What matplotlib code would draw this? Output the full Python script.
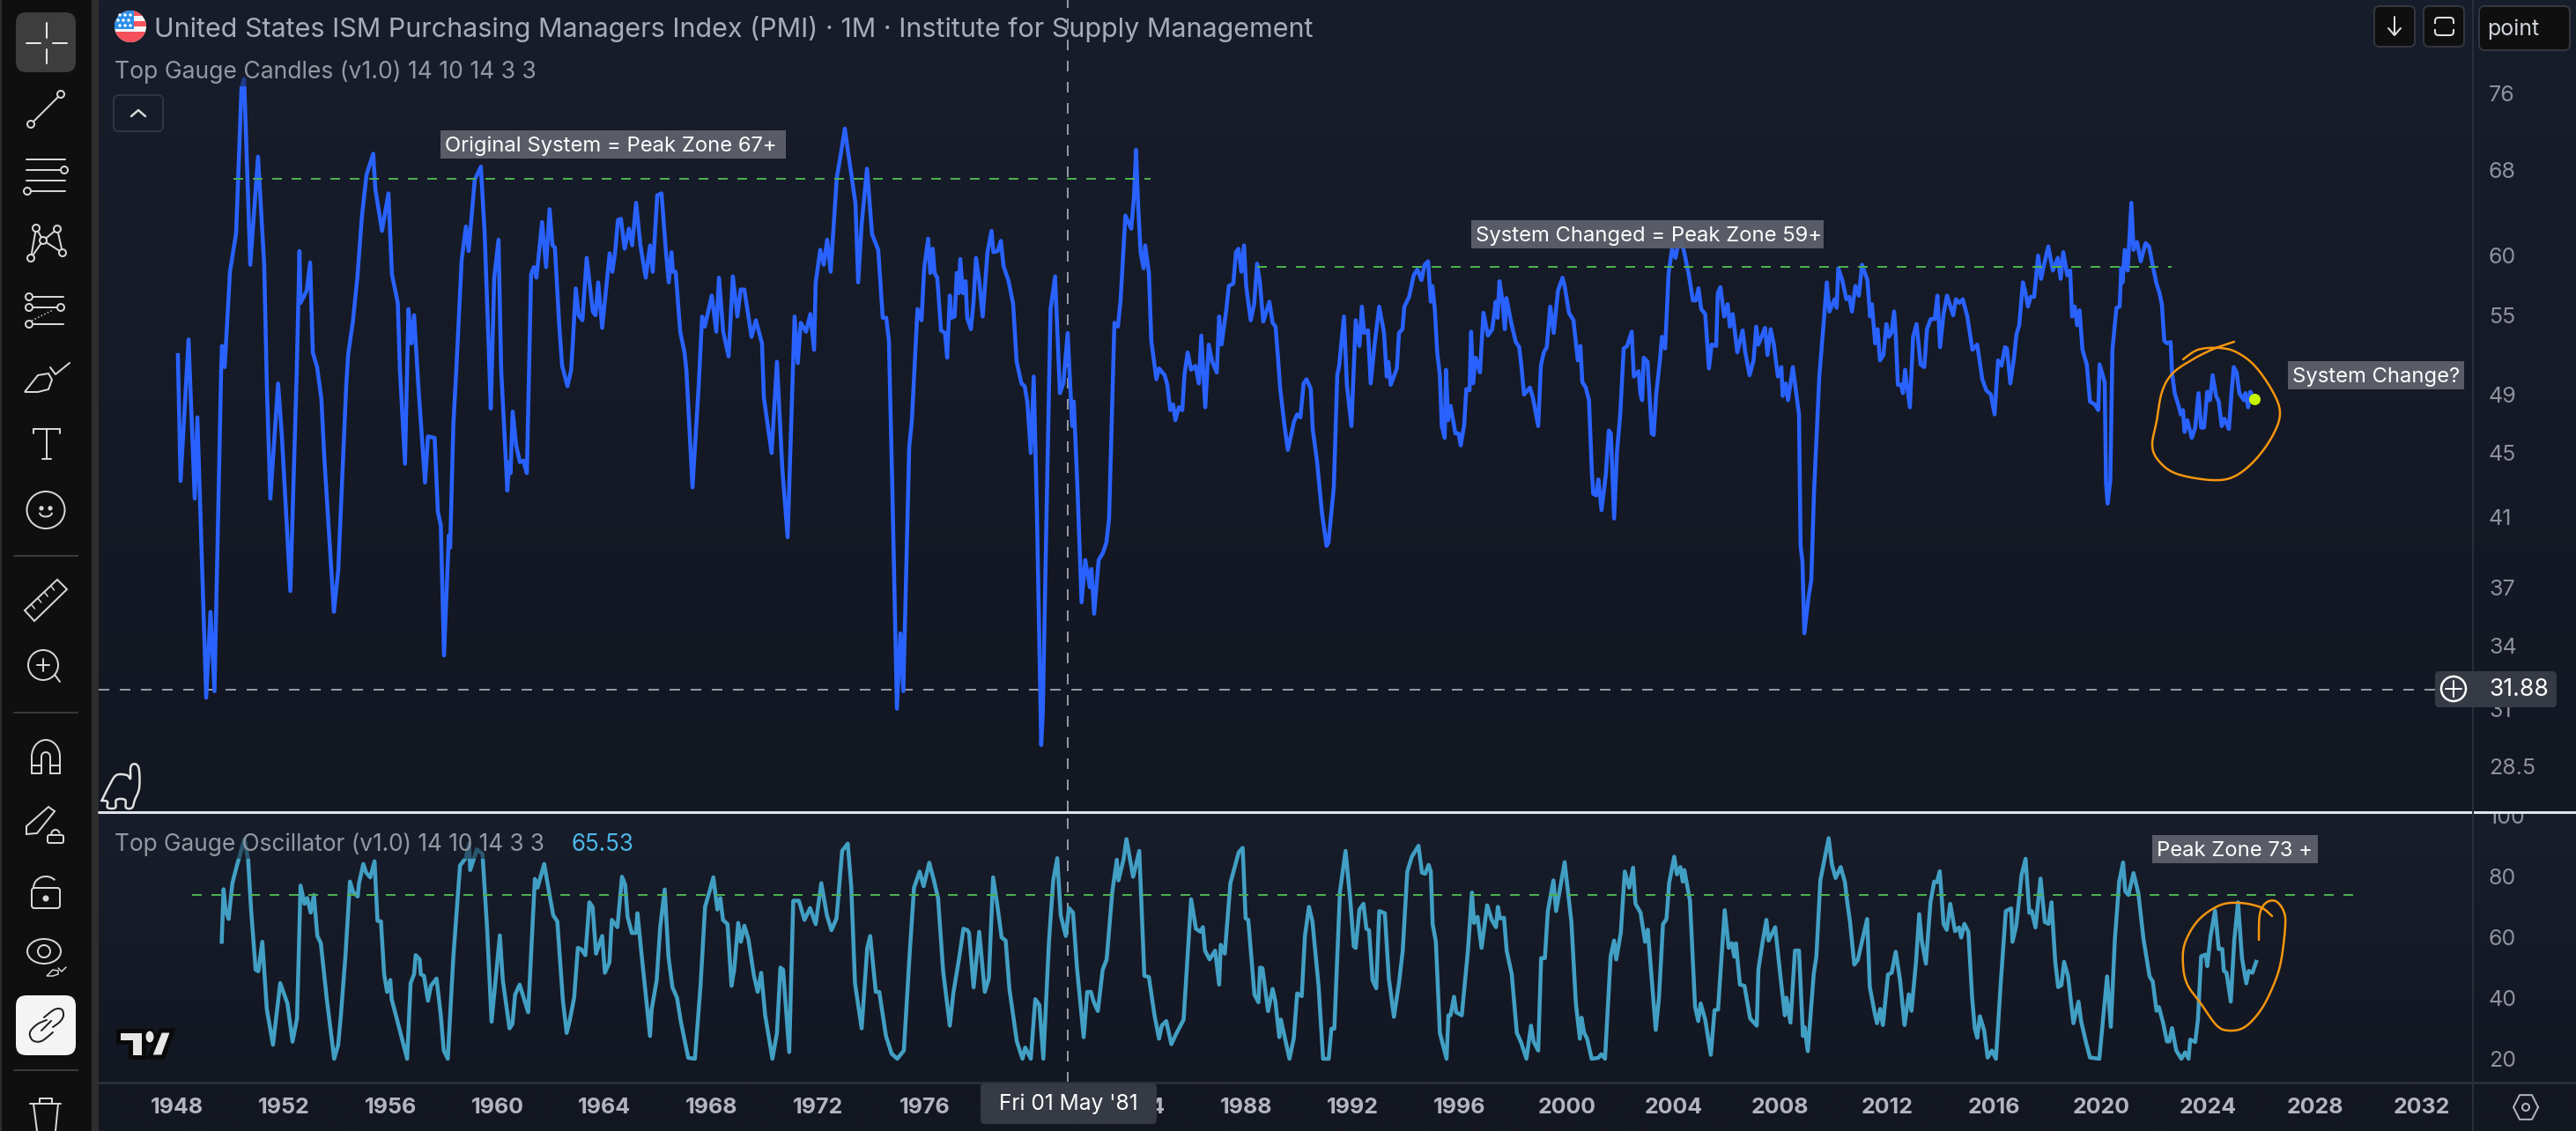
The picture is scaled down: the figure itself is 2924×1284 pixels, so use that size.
import numpy as np
import matplotlib
matplotlib.use("Agg")
import matplotlib.pyplot as plt
from matplotlib.patches import Rectangle, FancyBboxPatch, Circle, Ellipse, Polygon, Arc
from matplotlib.transforms import Bbox

plt.rcParams['font.family'] = ['Inter', 'DejaVu Sans']

# ---------- data: (decimal year, PMI) ----------
pmi_1948_1959 = [(1948.03,51.9),(1948.13,43.2),(1948.43,53.1),(1948.66,42.1),(1948.76,47.4),(1949.09,31.5),(1949.25,35.7),(1949.40,31.8),(1949.65,50.8),(1949.68,52.6),(1949.78,51.0),(1949.98,58.6),(1950.21,62.0),(1950.41,76.6),(1950.51,77.6),(1950.74,59.2),(1951.03,69.3),(1951.26,59.2),(1951.36,49.6),(1951.49,42.1),(1951.78,49.8),(1951.92,46.2),(1952.24,36.8),(1952.48,50.8),(1952.58,60.4),(1952.62,56.0),(1952.85,57.0),(1952.98,59.4),(1953.08,52.1),(1953.24,51.0),(1953.40,48.7),(1953.51,44.7),(1953.87,35.7),(1954.03,37.9),(1954.33,49.6),(1954.40,51.9),(1954.58,54.5),(1954.75,58.2),(1954.92,63.6),(1955.09,67.5),(1955.34,69.6),(1955.42,66.1),(1955.67,62.2),(1955.91,65.7),(1956.04,58.4),(1956.26,56.0),(1956.34,50.8),(1956.53,44.3),(1956.66,55.5),(1956.77,52.8),(1956.87,55.0),(1957.03,49.6),(1957.28,43.1),(1957.39,46.1),(1957.64,46.0),(1957.76,41.3),(1957.87,40.5),(1957.99,33.5),(1958.17,39.9),(1958.22,39.2),(1958.34,46.9),(1958.45,50.8),(1958.65,59.6),(1958.81,62.6),(1958.91,60.4),(1959.14,67.0),(1959.37,68.3),(1959.51,62.0),(1959.67,52.1),(1959.74,48.0),(1959.87,58.1)]
pmi_1960_1969 = [(1960.03,61.4),(1960.13,50.8),(1960.36,42.6),(1960.43,44.4),(1960.48,43.7),(1960.56,47.8),(1960.69,45.5),(1960.83,44.4),(1960.96,44.5),(1961.09,43.7),(1961.25,58.4),(1961.35,59.0),(1961.45,58.1),(1961.66,63.0),(1961.81,59.0),(1961.94,64.2),(1962.05,60.9),(1962.14,60.7),(1962.30,54.3),(1962.41,51.1),(1962.61,49.6),(1962.75,50.8),(1962.82,53.2),(1962.92,57.2),(1963.03,55.0),(1963.17,54.6),(1963.33,59.8),(1963.56,55.3),(1963.66,55.0),(1963.76,57.7),(1963.91,54.0),(1964.09,57.9),(1964.19,60.2),(1964.29,58.6),(1964.39,60.2),(1964.50,63.2),(1964.61,63.3),(1964.75,60.6),(1964.91,62.4),(1965.03,60.9),(1965.18,64.8),(1965.34,60.9),(1965.54,58.1),(1965.70,60.9),(1965.80,58.6),(1965.97,65.5),(1966.13,65.7),(1966.30,60.2),(1966.40,57.7),(1966.50,60.3),(1966.56,58.6),(1966.66,58.6),(1966.83,53.7),(1966.99,52.1),(1967.06,50.8),(1967.29,42.8),(1967.52,49.6),(1967.65,54.9),(1967.75,54.1),(1968.01,56.6),(1968.18,53.7),(1968.28,58.1),(1968.44,53.7),(1968.64,51.8),(1968.80,58.2),(1968.97,54.9),(1969.09,57.1),(1969.23,57.1),(1969.50,53.3),(1969.66,54.6),(1969.89,52.8),(1969.96,48.8)]
pmi_1970_1979 = [(1970.25,45.0),(1970.45,51.4),(1970.65,44.0),(1970.85,39.8),(1971.05,50.8),(1971.11,54.9),(1971.23,51.3),(1971.34,54.4),(1971.54,53.7),(1971.70,55.1),(1971.84,52.3),(1971.90,57.7),(1972.07,60.5),(1972.20,59.2),(1972.33,61.4),(1972.46,58.6),(1972.69,67.2),(1972.86,69.9),(1972.99,72.2),(1973.12,69.6),(1973.22,67.8),(1973.39,64.7),(1973.49,57.7),(1973.62,62.8),(1973.82,68.1),(1974.01,61.9),(1974.24,60.5),(1974.41,54.8),(1974.54,54.8),(1974.64,53.0),(1974.77,42.6),(1974.94,31.0),(1975.07,34.6),(1975.18,31.8),(1975.40,45.4),(1975.50,47.2),(1975.71,55.5),(1975.86,54.6),(1975.96,58.9),(1976.11,61.5),(1976.19,58.5),(1976.28,60.6),(1976.35,58.5),(1976.45,58.1),(1976.59,53.8),(1976.74,53.6),(1976.82,51.7),(1976.92,56.6),(1976.98,54.8),(1977.10,54.9),(1977.18,58.5),(1977.25,56.8),(1977.31,59.7),(1977.41,56.8),(1977.51,57.8),(1977.57,54.8),(1977.71,53.9),(1977.81,56.2),(1977.90,59.8),(1978.02,57.8),(1978.15,54.9),(1978.33,60.3),(1978.48,62.2),(1978.55,60.3),(1978.71,60.4),(1978.83,61.3),(1978.93,59.1),(1979.12,57.8),(1979.29,55.9),(1979.42,51.4),(1979.60,49.8),(1979.72,49.6),(1979.82,48.5),(1979.95,45.0)]
pmi_1980_1989 = [(1980.06,50.3),(1980.18,41.2),(1980.34,29.4),(1980.40,30.8),(1980.54,41.2),(1980.69,55.5),(1980.86,58.2),(1981.04,49.1),(1981.17,49.8),(1981.33,53.6),(1981.50,46.8),(1981.56,48.5),(1981.70,42.6),(1981.85,36.2),(1981.99,38.5),(1982.16,37.0),(1982.22,38.0),(1982.32,35.6),(1982.49,38.5),(1982.65,38.9),(1982.78,39.5),(1982.88,40.9),(1983.08,54.4),(1983.21,54.1),(1983.31,56.2),(1983.49,63.6),(1983.71,62.4),(1983.81,65.3),(1983.89,70.0),(1983.97,64.4),(1984.06,60.3),(1984.17,58.9),(1984.23,60.9),(1984.37,58.5),(1984.46,53.0),(1984.65,50.1),(1984.75,50.9),(1984.96,50.4),(1985.06,49.7),(1985.17,47.9),(1985.28,48.3),(1985.36,47.2),(1985.49,48.1),(1985.62,47.9),(1985.70,50.4),(1985.82,52.1),(1985.95,50.8),(1986.11,51.1),(1986.24,49.8),(1986.33,53.4),(1986.48,48.1),(1986.61,52.7),(1986.74,51.4),(1986.91,50.6),(1987.00,54.9),(1987.09,52.7),(1987.27,55.5),(1987.36,57.4),(1987.53,57.6),(1987.63,60.3),(1987.72,60.6),(1987.83,58.6),(1987.93,60.9),(1988.01,57.4),(1988.18,54.6),(1988.31,55.9),(1988.42,59.3),(1988.52,57.8),(1988.65,54.5),(1988.88,56.1),(1989.00,54.4),(1989.11,54.1),(1989.21,51.5),(1989.28,49.5),(1989.44,46.9),(1989.57,45.2),(1989.80,47.1),(1989.92,47.6)]
pmi_1990_1999 = [(1990.04,47.4),(1990.16,49.8),(1990.27,50.1),(1990.43,49.4),(1990.50,46.6),(1990.66,44.5),(1990.85,41.2),(1991.02,39.3),(1991.09,39.5),(1991.29,42.8),(1991.42,50.4),(1991.49,51.1),(1991.67,54.9),(1991.78,49.7),(1991.95,46.8),(1992.11,54.6),(1992.25,52.6),(1992.34,55.7),(1992.43,53.6),(1992.57,53.8),(1992.67,49.8),(1992.81,52.6),(1992.99,55.7),(1993.17,53.6),(1993.27,50.3),(1993.33,51.4),(1993.42,49.7),(1993.65,50.9),(1993.73,53.6),(1993.86,53.9),(1993.93,55.7),(1994.11,56.5),(1994.28,58.3),(1994.42,58.8),(1994.57,57.9),(1994.69,59.2),(1994.82,59.5),(1994.92,56.1),(1994.98,57.4),(1995.07,55.5),(1995.16,52.1),(1995.26,50.4),(1995.33,46.8),(1995.44,46.0),(1995.49,50.8),(1995.57,47.2),(1995.66,48.2),(1995.84,46.3),(1995.96,46.3),(1996.04,45.5),(1996.17,46.9),(1996.25,49.4),(1996.37,49.3),(1996.43,53.7),(1996.50,49.8),(1996.60,51.7),(1996.76,50.6),(1996.89,55.2),(1997.06,53.4),(1997.22,53.9),(1997.35,56.1),(1997.42,54.8),(1997.49,57.8),(1997.60,56.2),(1997.69,53.9),(1997.75,56.4),(1997.93,54.4),(1998.10,52.9),(1998.23,52.5),(1998.31,51.1),(1998.41,49.0),(1998.63,49.5),(1998.74,48.8),(1998.94,46.8),(1999.04,51.1),(1999.15,52.1),(1999.26,52.5),(1999.39,55.7),(1999.52,53.6),(1999.68,57.0),(1999.85,58.1),(1999.93,57.4)]
pmi_2000_2009 = [(2000.09,55.2),(2000.26,54.6),(2000.42,51.5),(2000.52,52.6),(2000.59,49.9),(2000.72,49.5),(2000.84,48.6),(2000.95,43.7),(2001.00,42.4),(2001.11,42.3),(2001.19,43.3),(2001.31,41.4),(2001.47,43.6),(2001.58,46.5),(2001.66,46.3),(2001.78,40.9),(2001.89,45.1),(2002.01,47.6),(2002.14,52.4),(2002.27,52.6),(2002.44,53.7),(2002.52,50.3),(2002.70,50.7),(2002.76,49.1),(2002.83,48.6),(2002.89,51.7),(2003.03,51.4),(2003.19,46.3),(2003.26,46.2),(2003.36,49.1),(2003.49,51.4),(2003.57,53.3),(2003.69,52.4),(2003.82,58.5),(2003.95,60.6),(2004.08,59.8),(2004.15,60.7),(2004.31,61.3),(2004.44,59.9),(2004.58,58.3),(2004.73,56.2),(2004.84,56.2),(2004.94,57.2),(2005.04,55.5),(2005.19,55.1),(2005.33,50.9),(2005.43,52.7),(2005.60,52.6),(2005.66,56.8),(2005.76,57.3),(2005.90,54.9),(2006.03,55.9),(2006.11,54.1),(2006.22,55.1),(2006.39,52.1),(2006.59,53.8),(2006.69,52.1),(2006.85,50.4),(2007.00,51.5),(2007.10,54.1),(2007.18,52.7),(2007.43,54.0),(2007.52,51.9),(2007.64,53.9),(2007.76,52.7),(2007.91,50.3),(2008.04,51.0),(2008.09,48.9),(2008.20,49.8),(2008.29,48.6),(2008.47,51.0),(2008.70,47.6),(2008.76,39.3),(2008.83,38.4),(2008.90,34.6),(2009.06,36.5),(2009.16,37.4),(2009.26,42.4),(2009.46,50.3),(2009.65,55.1),(2009.74,57.7),(2009.84,55.3)]
pmi_2010_2019 = [(2010.03,56.3),(2010.11,55.6),(2010.17,58.9),(2010.32,57.9),(2010.47,56.3),(2010.58,56.5),(2010.68,55.3),(2010.81,57.4),(2010.94,56.6),(2011.06,59.2),(2011.26,57.9),(2011.36,54.9),(2011.43,55.9),(2011.55,52.8),(2011.64,53.9),(2011.73,51.5),(2011.86,51.9),(2011.97,54.3),(2012.06,53.3),(2012.16,53.6),(2012.26,55.3),(2012.32,53.5),(2012.40,49.7),(2012.52,49.7),(2012.59,49.1),(2012.67,50.8),(2012.85,48.1),(2012.97,53.3),(2013.10,54.3),(2013.25,51.2),(2013.39,51.0),(2013.49,53.9),(2013.63,54.7),(2013.78,54.7),(2013.88,56.6),(2013.98,52.5),(2014.11,55.1),(2014.24,56.6),(2014.47,55.0),(2014.57,56.3),(2014.70,56.0),(2014.83,56.3),(2015.00,54.9),(2015.19,52.3),(2015.37,52.7),(2015.56,50.1),(2015.71,49.3),(2015.88,49.0),(2016.02,47.6),(2016.15,51.5),(2016.28,51.1),(2016.41,52.5),(2016.48,52.4),(2016.61,49.8),(2016.74,51.6),(2016.84,53.5),(2016.94,54.2),(2017.08,57.7),(2017.17,56.9),(2017.27,55.7),(2017.37,56.5),(2017.50,56.5),(2017.65,60.0),(2017.76,58.0),(2017.87,59.2),(2018.03,60.8),(2018.20,58.7),(2018.39,59.8),(2018.49,58.0),(2018.59,60.3),(2018.74,58.3),(2018.85,58.7),(2018.92,54.9),(2019.02,55.7),(2019.11,54.2),(2019.20,55.4),(2019.31,52.3),(2019.47,51.2),(2019.59,48.5),(2019.77,48.3),(2019.90,47.9),(2019.95,51.2)]
pmi_2020_2025 = [(2020.14,49.9),(2020.19,43.1),(2020.25,41.8),(2020.35,43.2),(2020.43,52.3),(2020.58,55.6),(2020.70,55.7),(2020.76,58.9),(2020.81,57.7),(2020.89,60.5),(2021.00,58.7),(2021.14,64.8),(2021.22,60.5),(2021.35,61.2),(2021.49,59.5),(2021.67,61.1),(2021.80,60.8),(2021.95,59.0),(2022.08,57.6),(2022.18,56.9),(2022.28,55.9),(2022.37,53.0),(2022.47,52.8),(2022.61,52.9),(2022.66,50.6),(2022.76,49.1),(2022.89,48.3),(2022.99,47.6),(2023.07,47.9),(2023.13,46.4),(2023.23,47.2),(2023.40,46.0),(2023.53,46.7),(2023.65,49.1),(2023.75,46.7),(2023.86,46.7),(2023.98,49.2),(2024.08,48.6),(2024.18,50.4),(2024.31,48.9),(2024.41,48.5),(2024.52,46.8),(2024.62,47.3),(2024.79,46.6),(2024.89,49.2),(2024.97,51.0),(2025.08,50.6),(2025.18,49.1),(2025.35,48.6),(2025.41,49.1),(2025.51,48.1),(2025.59,49.2),(2025.73,48.7)]

osc_1949_1959 = [(1949.67,58.5),(1949.74,75.8),(1949.82,68.6),(1949.93,66.0),(1950.07,77.8),(1950.24,83.6),(1950.52,92.3),(1950.66,85.5),(1950.77,69.1),(1950.94,49.3),(1951.04,48.8),(1951.19,58.5),(1951.36,36.2),(1951.59,24.6),(1951.86,44.9),(1952.13,38.2),(1952.32,25.6),(1952.49,33.3),(1952.62,77.0),(1952.77,71.0),(1952.87,72.9),(1953.00,68.1),(1953.12,73.9),(1953.25,60.4),(1953.38,58.0),(1953.61,39.1),(1953.88,20.0),(1954.03,24.6),(1954.13,34.3),(1954.30,53.6),(1954.47,78.3),(1954.59,74.9),(1954.76,73.4),(1954.81,77.8),(1954.97,84.1),(1955.08,81.2),(1955.23,79.7),(1955.39,85.0),(1955.50,65.4),(1955.63,65.2),(1955.75,47.8),(1955.86,42.0),(1955.98,45.9),(1956.03,39.6),(1956.19,34.3),(1956.61,20.0),(1956.74,44.9),(1956.87,47.8),(1956.93,54.1),(1957.08,52.7),(1957.12,47.8),(1957.24,47.3),(1957.39,39.1),(1957.50,44.0),(1957.71,46.4),(1957.87,34.3),(1957.98,22.7),(1958.13,20.0),(1958.34,53.6),(1958.59,83.6),(1958.80,86.0),(1958.93,90.8),(1958.97,82.1),(1959.22,88.9),(1959.43,87.4),(1959.60,63.3),(1959.77,32.2)]
osc_1960_1969 = [(1960.08,60.6),(1960.19,45.9),(1960.44,30.0),(1960.55,31.4),(1960.65,41.1),(1960.82,44.4),(1961.14,35.3),(1961.39,79.2),(1961.49,76.3),(1961.74,84.1),(1961.95,73.4),(1962.08,67.2),(1962.23,65.2),(1962.44,39.1),(1962.58,28.5),(1962.69,32.4),(1962.86,40.1),(1963.00,56.5),(1963.13,56.0),(1963.28,54.1),(1963.43,71.5),(1963.55,70.0),(1963.68,54.6),(1963.91,60.4),(1964.01,48.3),(1964.18,51.7),(1964.27,65.7),(1964.48,63.3),(1964.65,79.9),(1964.77,77.3),(1964.86,66.7),(1965.02,61.4),(1965.17,61.4),(1965.23,67.9),(1965.38,54.6),(1965.70,27.5),(1965.76,36.2),(1965.95,45.9),(1966.08,63.3),(1966.25,75.7),(1966.39,53.6),(1966.54,43.5),(1966.71,40.1),(1966.85,32.4),(1967.13,20.3),(1967.38,20.0),(1967.59,44.0),(1967.76,70.0),(1967.95,75.8),(1968.07,79.7),(1968.22,69.1),(1968.33,72.9),(1968.43,65.7),(1968.60,64.3),(1968.75,44.0),(1968.85,49.3),(1969.00,64.7),(1969.10,58.5),(1969.23,63.8),(1969.38,59.4),(1969.59,47.3),(1969.73,42.0),(1969.86,48.3)]
osc_1970_1979 = [(1970.01,34.3),(1970.28,20.0),(1970.45,28.5),(1970.58,50.0),(1970.68,49.3),(1970.91,22.2),(1971.06,72.0),(1971.27,72.0),(1971.48,65.7),(1971.69,69.6),(1971.90,64.3),(1972.11,77.8),(1972.32,67.2),(1972.49,62.3),(1972.68,66.2),(1972.89,88.4),(1973.10,90.8),(1973.23,76.8),(1973.37,44.9),(1973.62,30.0),(1973.83,56.5),(1973.94,60.4),(1974.15,42.0),(1974.28,42.0),(1974.43,33.3),(1974.53,27.5),(1974.74,21.7),(1974.95,20.0),(1975.20,22.7),(1975.41,53.6),(1975.58,76.3),(1975.79,81.6),(1975.94,76.8),(1976.15,84.5),(1976.31,79.2),(1976.48,72.9),(1976.67,48.8),(1976.92,30.9),(1977.05,41.5),(1977.26,52.7),(1977.43,62.8),(1977.58,62.3),(1977.64,61.4),(1977.81,43.5),(1978.02,61.8),(1978.23,42.0),(1978.38,46.4),(1978.54,79.7),(1978.69,71.0),(1978.86,59.9),(1979.01,58.9),(1979.15,43.0),(1979.43,25.6),(1979.64,20.0),(1979.74,23.7),(1979.95,20.0)]
osc_1980_1989 = [(1980.12,39.6),(1980.27,37.7),(1980.42,20.0),(1980.63,58.5),(1980.79,78.7),(1980.94,86.0),(1981.07,67.2),(1981.26,60.4),(1981.38,69.6),(1981.53,68.1),(1981.68,49.8),(1981.93,27.1),(1982.06,42.0),(1982.20,42.0),(1982.31,38.6),(1982.46,35.7),(1982.64,49.3),(1982.79,52.7),(1983.00,74.9),(1983.17,85.5),(1983.23,78.7),(1983.42,85.5),(1983.53,92.3),(1983.78,79.9),(1984.01,88.4),(1984.20,47.3),(1984.37,46.9),(1984.58,34.3),(1984.75,26.6),(1984.85,30.9),(1985.02,32.4),(1985.21,24.8),(1985.38,28.0),(1985.67,32.9),(1985.95,72.5),(1986.05,67.2),(1986.13,62.8),(1986.30,61.8),(1986.39,63.3),(1986.47,55.6),(1986.64,52.7),(1986.85,55.6),(1987.00,44.4),(1987.06,57.5),(1987.21,54.6),(1987.42,77.8),(1987.73,87.9),(1987.88,89.4),(1987.99,66.2),(1988.09,65.7),(1988.32,41.1),(1988.47,38.6),(1988.53,50.0),(1988.62,49.8),(1988.83,35.7),(1989.00,43.0),(1989.10,39.1),(1989.25,27.1),(1989.31,32.9),(1989.63,20.0),(1989.79,26.6),(1989.92,41.5)]
osc_1990_1999 = [(1990.09,40.6),(1990.21,60.4),(1990.36,70.0),(1990.49,65.2),(1990.72,44.0),(1990.89,20.0),(1991.10,20.0),(1991.20,29.9),(1991.31,29.9),(1991.52,74.9),(1991.73,88.4),(1991.90,72.9),(1992.04,57.0),(1992.11,56.5),(1992.25,69.1),(1992.40,71.0),(1992.51,62.8),(1992.61,62.3),(1992.74,45.9),(1992.88,43.2),(1992.99,68.6),(1993.20,67.9),(1993.35,46.4),(1993.54,33.8),(1993.73,44.9),(1993.87,55.6),(1994.04,81.6),(1994.21,86.5),(1994.46,90.1),(1994.59,81.2),(1994.71,80.9),(1994.84,83.8),(1994.92,81.6),(1994.99,64.3),(1995.11,58.5),(1995.26,28.5),(1995.51,20.0),(1995.58,34.3),(1995.66,34.3),(1995.79,40.4),(1995.87,35.3),(1996.08,34.3),(1996.31,55.6),(1996.46,74.7),(1996.54,64.7),(1996.67,66.7),(1996.82,56.5),(1997.03,70.5),(1997.20,65.7),(1997.36,63.3),(1997.43,70.0),(1997.51,66.2),(1997.66,66.4),(1997.76,55.6),(1997.95,47.8),(1998.14,28.5),(1998.29,25.6),(1998.50,20.0),(1998.67,30.9),(1998.77,25.6),(1998.94,22.7),(1999.05,53.1),(1999.19,53.1),(1999.30,68.6),(1999.40,73.4),(1999.51,78.7),(1999.61,68.6),(1999.93,84.7)]
osc_2000_2009 = [(2000.18,65.2),(2000.35,38.2),(2000.50,26.6),(2000.56,33.5),(2000.66,28.5),(2000.77,26.6),(2000.94,20.0),(2001.19,20.3),(2001.30,21.5),(2001.44,20.0),(2001.65,53.6),(2001.78,58.9),(2001.86,52.7),(2002.03,61.4),(2002.18,81.6),(2002.35,76.3),(2002.49,82.9),(2002.58,71.0),(2002.77,68.1),(2002.94,58.5),(2003.04,62.5),(2003.34,29.5),(2003.46,40.1),(2003.61,64.3),(2003.74,66.0),(2003.84,77.8),(2004.03,86.5),(2004.13,80.7),(2004.26,83.1),(2004.35,78.3),(2004.41,82.1),(2004.62,72.0),(2004.81,37.2),(2004.93,32.4),(2005.02,38.2),(2005.19,32.9),(2005.40,21.3),(2005.54,36.0),(2005.67,36.2),(2005.92,68.9),(2006.07,56.5),(2006.19,58.0),(2006.28,53.6),(2006.34,58.0),(2006.49,44.4),(2006.66,44.0),(2006.87,33.3),(2007.12,30.9),(2007.18,49.3),(2007.33,58.0),(2007.48,65.7),(2007.56,58.9),(2007.81,63.3),(2008.02,45.9),(2008.17,34.3),(2008.23,40.1),(2008.38,31.9),(2008.55,55.6),(2008.70,55.6),(2008.85,27.5),(2008.91,30.4),(2009.03,22.5),(2009.25,47.8),(2009.35,53.6),(2009.50,78.7),(2009.81,92.6),(2009.93,84.0)]
osc_2010_2019 = [(2010.07,79.5),(2010.26,83.1),(2010.42,78.1),(2010.48,73.3),(2010.61,65.0),(2010.77,51.0),(2010.90,52.5),(2011.10,60.2),(2011.25,66.0),(2011.35,43.6),(2011.53,35.2),(2011.62,31.7),(2011.74,36.4),(2011.84,31.1),(2012.03,47.7),(2012.17,48.3),(2012.32,55.2),(2012.48,46.0),(2012.65,31.1),(2012.81,41.2),(2012.91,35.8),(2013.08,51.9),(2013.20,67.6),(2013.29,59.0),(2013.45,51.3),(2013.62,71.5),(2013.76,78.3),(2013.86,78.1),(2013.97,81.7),(2014.11,64.4),(2014.23,62.4),(2014.36,71.0),(2014.54,62.0),(2014.69,63.2),(2014.77,59.9),(2014.89,64.4),(2015.04,61.7),(2015.18,40.0),(2015.28,29.9),(2015.37,26.9),(2015.47,34.0),(2015.63,29.3),(2015.76,20.4),(2015.92,22.7),(2016.07,20.0),(2016.25,44.8),(2016.44,68.6),(2016.64,69.5),(2016.69,58.5),(2016.83,63.8),(2017.03,80.5),(2017.18,85.8),(2017.32,68.0),(2017.41,68.6),(2017.55,63.2),(2017.74,79.3),(2017.90,65.0),(2018.04,64.4),(2018.15,71.5),(2018.29,51.9),(2018.40,43.6),(2018.52,44.2),(2018.62,51.9),(2018.77,47.1),(2018.97,31.7),(2019.16,38.8),(2019.26,32.3),(2019.45,25.1),(2019.59,20.4),(2019.94,20.0)]
osc_2020_2025 = [(2020.23,47.1),(2020.37,30.5),(2020.52,59.0),(2020.68,78.1),(2020.83,84.6),(2020.91,75.1),(2021.03,73.9),(2021.22,81.1),(2021.40,74.5),(2021.59,59.6),(2021.82,47.1),(2021.94,45.4),(2022.08,35.8),(2022.17,37.0),(2022.33,31.7),(2022.47,25.7),(2022.56,25.7),(2022.66,30.1),(2022.82,22.7),(2023.01,20.0),(2023.15,22.1),(2023.28,20.0),(2023.34,26.3),(2023.53,25.5),(2023.63,32.9),(2023.75,53.7),(2023.92,54.3),(2023.98,50.5),(2024.10,60.2),(2024.27,68.8),(2024.41,56.1),(2024.54,56.1),(2024.60,48.9),(2024.70,48.3),(2024.86,38.8),(2024.99,59.0),(2025.13,71.5),(2025.28,53.1),(2025.44,44.8),(2025.53,48.9),(2025.67,48.3),(2025.81,51.9)]

year_ticks = [1948, 1952, 1956, 1960, 1964, 1968, 1972, 1976, 1984, 1988, 1992, 1996, 2000, 2004, 2008, 2012, 2016, 2020, 2024, 2028, 2032]
price_ticks = [28.5, 31, 34, 37, 41, 45, 49, 55, 60, 68, 76]
osc_ticks = [20, 40, 60, 80, 100]
price_tick_labels = ['28.5', '31', '34', '37', '41', '45', '49', '55', '60', '68', '76']

orig_zone = (1950.11, 1984.43, 67.1)
new_zone = (1988.42, 2022.64, 59.0)
osc_zone = (1948.56, 2029.47, 73.8)
cursor_year, cursor_price = 1981.33, 31.88

pmi_pts = pmi_1948_1959 + pmi_1960_1969 + pmi_1970_1979 + pmi_1980_1989 + pmi_1990_1999 + pmi_2000_2009 + pmi_2010_2019 + pmi_2020_2025
osc_pts = osc_1949_1959 + osc_1960_1969 + osc_1970_1979 + osc_1980_1989 + osc_1990_1999 + osc_2000_2009 + osc_2010_2019 + osc_2020_2025
pmi_t, pmi_v = zip(*pmi_pts)
osc_t, osc_v = zip(*osc_pts)

# ---------- layout ----------
W, H = 2924, 1284
L, R = 112, 2807
SEP, BOT = 921, 1229
fig = plt.figure(figsize=(W / 100, H / 100), dpi=100, facecolor='#0f0f0f')
P = 0.72  # px -> pt at dpi 100

def pane(x0, y0, x1, y1, **kw):
    return fig.add_axes([x0 / W, 1 - y1 / H, (x1 - x0) / W, (y1 - y0) / H], **kw)

def gradient(y0, y1, top, bottom):
    a = pane(L, y0, W, y1, zorder=0)
    c0, c1 = np.array(matplotlib.colors.to_rgb(top)), np.array(matplotlib.colors.to_rgb(bottom))
    t = np.linspace(0, 1, 64)[:, None, None]
    a.imshow(c0 * (1 - t) + c1 * t, aspect='auto', extent=(0, 1, 0, 1))
    a.axis('off')

gradient(0, SEP, '#181d2b', '#131722')
gradient(SEP, BOT, '#181d2b', '#131722')
gradient(BOT, H, '#131722', '#131722')

YEAR_L = 1948 + (L - 201) / 30.33
YEAR_R = 1948 + (R - 201) / 30.33

ax = pane(L, 0, R, SEP, zorder=2)
ax.patch.set_alpha(0)
ax.set_yscale('log')
ax.set_xlim(YEAR_L, YEAR_R)
ax.set_ylim(76 * np.exp(-(SEP - 106) / 779), 76 * np.exp(106 / 779))
ax.plot(pmi_t, pmi_v, color='#2962ff', lw=4.5 * P, solid_joinstyle='round', zorder=3)
ax.plot([pmi_t[-1]], [pmi_v[-1]], 'o', color='#c8f400', ms=13 * P, mew=0, zorder=5)
ax.plot(orig_zone[:2], [orig_zone[2]] * 2, color='#4caf50', lw=2 * P, ls=(0, (5.5, 5.5)), zorder=4)
ax.plot(new_zone[:2], [new_zone[2]] * 2, color='#4caf50', lw=2 * P, ls=(0, (5.5, 5.5)), zorder=4)

ax2 = pane(L, SEP, R, BOT, zorder=2)
ax2.patch.set_alpha(0)
ax2.set_xlim(YEAR_L, YEAR_R)
ax2.set_ylim(20 + (1202 - BOT) / 3.45, 20 + (1202 - SEP) / 3.45)
ax2.plot(osc_t, osc_v, color='#429fc4', lw=4.5 * P, solid_joinstyle='round', zorder=3)
ax2.plot(osc_zone[:2], [osc_zone[2]] * 2, color='#4caf50', lw=2 * P, ls=(0, (5.5, 5.5)), zorder=4)

for a in (ax, ax2):
    for s in a.spines.values():
        s.set_visible(False)
    a.minorticks_off()
    a.tick_params(which='both', length=0)
    a.yaxis.tick_right()

AXC = '#8f929c'
ax.set_yticks(price_ticks)
ax.set_yticklabels(price_tick_labels)
ax.tick_params(axis='y', which='both', labelsize=25 * P, labelcolor=AXC, pad=18 * P)
ax.yaxis.set_minor_formatter(matplotlib.ticker.NullFormatter())
ax.set_xticks([])
ax2.set_yticks(osc_ticks)
ax2.tick_params(axis='y', labelsize=25 * P, labelcolor=AXC, pad=18 * P)
ax2.set_xticks(year_ticks)
ax2.tick_params(axis='x', labelsize=25 * P, labelcolor='#b2b5be', pad=17 * P)
for lab in ax2.get_xticklabels():
    lab.set_fontweight('bold')
for lab in ax2.get_yticklabels():
    lab.set_clip_on(True)
    lab.set_clip_box(Bbox([[R, 0], [W, H - SEP - 3]]))

# cursor crosshair
for a in (ax, ax2):
    a.axvline(cursor_year, color='#9598a1', lw=2 * P, ls=(0, (6, 6)), zorder=2.5)
ax.axhline(cursor_price, color='#9598a1', lw=2 * P, ls=(0, (6, 6)), zorder=2.5)

# ---------- overlay in picture pixels: interface furniture and hand drawings ----------
ov = fig.add_axes([0, 0, 1, 1], zorder=5)
ov.set_xlim(0, W)
ov.set_ylim(H, 0)
ov.axis('off')
ov.patch.set_alpha(0)

def text(x, y, s, size, color, ha='left', weight='normal', **kw):
    return ov.text(x, y, s, fontsize=size * P, color=color, ha=ha, va='center', fontweight=weight, **kw)

def line(xs, ys, color='#d6d6d6', lw=2, z=6, **kw):
    ov.plot(xs, ys, color=color, lw=lw * P, zorder=z, solid_capstyle='round', **kw)

def rbox(x0, y0, x1, y1, fc, ec='none', r=6, lw=2, z=4):
    ov.add_patch(FancyBboxPatch((x0 + r, y0 + r), x1 - x0 - 2 * r, y1 - y0 - 2 * r,
                                boxstyle=f'round,pad={r},rounding_size={r}', fc=fc, ec=ec, lw=lw * P, zorder=z))

def ring(x, y, r, fc='none', ec='#d6d6d6', lw=2, z=7):
    ov.add_patch(Circle((x, y), r, fc=fc, ec=ec, lw=lw * P, zorder=z))

def smooth(pts, n=14):
    p = np.array(pts, float)
    p = np.vstack([p[0], p, p[-1]])
    out = []
    for i in range(1, len(p) - 2):
        t = np.linspace(0, 1, n)[:, None]
        out.append(0.5 * (2 * p[i] + (p[i + 1] - p[i - 1]) * t + (2 * p[i - 1] - 5 * p[i] + 4 * p[i + 1] - p[i + 2]) * t ** 2
                          + (3 * p[i] - p[i - 1] - 3 * p[i + 1] + p[i + 2]) * t ** 3))
    return np.vstack(out)

# toolbar
ov.add_patch(Rectangle((0, 0), 104, H, fc='#0f0f0f', ec='none', zorder=1))
ov.add_patch(Rectangle((0, 0), 2, H, fc='#2e2e2e', ec='none', zorder=1))
ov.add_patch(Rectangle((104, 0), 8, H, fc='#2e2e2e', ec='none', zorder=1))
rbox(18, 14, 86, 82, '#3d3d3d', r=12)
for xs, ys in [((53, 53), (26, 43)), ((53, 53), (56, 72)), ((30, 46), (49, 49)), ((60, 76), (49, 49))]:
    line(xs, ys, '#e6e6e6')
line((35, 69), (141, 107)); ring(35, 141, 4, fc='#0f0f0f'); ring(69, 107, 4, fc='#0f0f0f')
for yy in (181, 193, 205, 217):
    line((30, 74), (yy, yy))
ring(73, 193, 4, fc='#0f0f0f'); ring(31, 217, 4, fc='#0f0f0f')
line((35, 41, 49, 71, 65, 49, 35), (293, 259, 273, 287, 260, 273, 293))
for c in [(41, 259), (65, 260), (49, 273), (71, 287), (35, 293)]:
    ring(*c, 4, fc='#0f0f0f')
for yy, xe in ((337, 72), (349, 69), (368, 72)):
    line((33, xe), (yy, yy)); ring(33, yy, 4, fc='#0f0f0f')
ring(69, 349, 4, fc='#0f0f0f')
line((36, 60), (364, 352), lw=1.5, ls=':')
ov.add_patch(Polygon([(28, 445), (43, 426), (55, 424), (59, 431), (55, 442), (43, 445)], fc='none', ec='#d6d6d6', lw=2 * P, zorder=7))
line((57, 63, 79), (417, 425, 412))
line((38, 68), (487, 487)); line((53, 53), (487, 521)); line((48, 58), (521, 521))
line((38, 38), (487, 492)); line((68, 68), (487, 492))
ov.add_patch(Ellipse((52, 579), 43, 42, fc='none', ec='#d6d6d6', lw=2 * P, zorder=7))
ring(47, 577, 1.6, fc='#d6d6d6'); ring(57, 577, 1.6, fc='#d6d6d6')
ov.add_patch(Arc((52, 582), 14, 9, theta1=0, theta2=180, ec='#d6d6d6', lw=2 * P, zorder=7))
for yy in (631, 809, 1215):
    line((16, 88), (yy, yy), '#3a3a3a')
ov.add_patch(Polygon([(28, 693), (65, 658), (76, 669), (39, 705)], fc='none', ec='#d6d6d6', lw=2 * P, zorder=7))
for t in (0.2, 0.4, 0.6, 0.8):
    line((28 + 37 * t, 28 + 37 * t + 4), (693 - 35 * t, 693 - 35 * t + 5), lw=1.5)
ring(49, 755, 17); line((42, 56), (755, 755)); line((49, 49), (748, 762)); line((62, 68), (766, 774))
# magnet
line((36, 36), (878, 859)); line((68, 68), (878, 859))
line((47, 47), (878, 859)); line((57, 57), (878, 859))
ov.add_patch(Arc((52, 859), 32, 38, theta1=180, theta2=360, ec='#d6d6d6', lw=2 * P, zorder=7))
ov.add_patch(Arc((52, 859), 10, 10, theta1=180, theta2=360, ec='#d6d6d6', lw=2 * P, zorder=7))
line((36, 47), (869, 869)); line((57, 68), (869, 869)); line((36, 47), (878, 878)); line((57, 68), (878, 878))
ov.add_patch(Polygon([(30, 938), (55, 916), (62, 921), (42, 946), (30, 947)], fc='none', ec='#d6d6d6', lw=2 * P, zorder=7))
rbox(54, 948, 72, 957, 'none', ec='#d6d6d6', r=2, z=7)
ov.add_patch(Arc((63, 948), 10, 12, theta1=180, theta2=340, ec='#d6d6d6', lw=2 * P, zorder=7))
rbox(36, 1008, 68, 1031, 'none', ec='#d6d6d6', r=3, z=7)
ov.add_patch(Arc((52, 1008), 28, 26, theta1=180, theta2=320, ec='#d6d6d6', lw=2 * P, zorder=7))
ring(52, 1020, 2.5, fc='#d6d6d6')
ov.add_patch(Ellipse((50, 1080), 38, 28, fc='none', ec='#d6d6d6', lw=2 * P, zorder=7))
ring(50, 1080, 7)
ov.add_patch(Polygon([(53, 1108), (60, 1101), (66, 1102), (66, 1106), (60, 1108)], fc='none', ec='#d6d6d6', lw=1.5 * P, zorder=7))
line((66, 70, 75), (1099, 1103, 1098), lw=1.5)
rbox(18, 1130, 86, 1198, '#f4f4f4', r=12)
link = smooth([(53, 1158), (42, 1163), (34, 1172), (37, 1181), (47, 1182), (60, 1172)], 8)
line(link[:, 0], link[:, 1], '#202020')
link = smooth([(50, 1155), (62, 1146), (70, 1146), (72, 1153), (68, 1160), (60, 1166)], 8)
line(link[:, 0], link[:, 1], '#202020')
line((47, 58), (1170, 1159), '#202020')
line((34, 69), (1253, 1253)); line((45, 45, 59, 59), (1253, 1247, 1247, 1253))
line((38, 42), (1253, 1284)); line((66, 63), (1253, 1284))

# separators
line((L, W), (922, 922), '#e0e3eb', lw=3, z=3)
line((R, R), (0, H), '#2a2e39', lw=2, z=3)
line((L, W), (BOT, BOT), '#2a2e39', lw=3, z=3)

# legend block
PANE = '#171c2a'
ov.add_patch(Circle((148, 30), 18, fc='#f6f6f6', ec='none', zorder=6))
clip = Circle((148, 30), 18, transform=ov.transData)
for yy in (12, 24, 36):
    r_ = Rectangle((130, yy), 36, 6 if yy != 36 else 12, fc='#f5515a', ec='none', zorder=6)
    ov.add_patch(r_); r_.set_clip_path(clip)
r_ = Rectangle((130, 12), 22, 21, fc='#2c8fe8', ec='none', zorder=6)
ov.add_patch(r_); r_.set_clip_path(clip)
for sx, sy in [(136, 17), (142, 17), (148, 17), (134, 23), (140, 23), (146, 23), (136, 29), (142, 29), (148, 29)]:
    ov.add_patch(Circle((sx, sy), 1.7, fc='#ffffff', ec='none', zorder=7))
text(175, 33, 'United States ISM Purchasing Managers Index (PMI) · 1M · Institute for Supply Management', 30.5, '#a9acb7', zorder=7)
text(130, 82, 'Top Gauge Candles (v1.0) 14 10 14 3 3', 26.5, '#9598a1', zorder=7,
     bbox=dict(fc=PANE, ec='none', alpha=0.55, pad=2))
text(130, 959, 'Top Gauge Oscillator (v1.0) 14 10 14 3 3', 26.2, '#9598a1', zorder=7,
     bbox=dict(fc=PANE, ec='none', alpha=0.55, pad=2))
text(648, 959, '65.53', 26, '#4db8e8', zorder=7)
rbox(129, 108, 185, 149, '#171c2a', ec='#33363f', r=6)
line((149, 157, 165), (132, 125, 132), '#d6d6d6', lw=2.5)

# buttons top right
for x0, x1 in ((2695, 2741), (2751, 2797)):
    rbox(x0, 7, x1, 53, '#0f0f0f', ec='#33363f', r=6)
line((2718, 2718), (19, 39), '#e0e0e0'); line((2711, 2718, 2725), (32, 40, 32), '#e0e0e0')
rbox(2764, 20, 2785, 40, 'none', ec='#e0e0e0', r=4, z=7)
ov.add_patch(Rectangle((2760, 27), 30, 6, fc='#0f0f0f', ec='none', zorder=8))
rbox(2814, 7, 2917, 57, '#0f0f0f', ec='#33363f', r=6)
text(2823, 33, 'point', 25, '#d1d4dc', zorder=7)

# annotation labels
for x0, y0, x1, y1, s in [(500, 148, 892, 180, 'Original System = Peak Zone 67+'),
                          (1670, 250, 2070, 282, 'System Changed = Peak Zone 59+'),
                          (2597, 410, 2797, 442, 'System Change?'),
                          (2443, 948, 2631, 980, 'Peak Zone 73 +')]:
    ov.add_patch(Rectangle((x0, y0), x1 - x0, y1 - y0, fc='#5d606b', ec='none', alpha=0.95, zorder=6))
    text(x0 + 5, (y0 + y1) / 2 + 2, s, 23.8, '#ffffff', zorder=7)

# orange hand drawings
c1 = smooth([(2536, 388), (2513, 396), (2489, 408), (2466, 424), (2454, 445), (2448, 478), (2443, 506), (2451, 524),
             (2471, 538), (2510, 545), (2536, 541), (2560, 522), (2580, 494), (2588, 469), (2580, 445), (2560, 416),
             (2539, 400), (2519, 395), (2495, 397), (2478, 408)])
line(c1[:, 0], c1[:, 1], '#f5960f', lw=2.5, z=6)
c2 = smooth([(2579, 1040), (2566, 1030), (2542, 1025), (2519, 1028), (2495, 1045), (2480, 1071), (2478, 1096), (2483, 1118),
             (2498, 1139), (2516, 1164), (2530, 1170), (2548, 1166), (2566, 1147), (2580, 1120), (2589, 1092), (2594, 1051),
             (2592, 1034), (2583, 1023), (2572, 1025), (2565, 1038), (2564, 1067)])
line(c2[:, 0], c2[:, 1], '#f5960f', lw=2.5, z=6)

# cursor tags
rbox(2764, 762, 2902, 803, '#363a45', r=5, z=6)
ring(2785, 782, 14, ec='#ffffff', lw=2.5)
line((2776, 2794), (782, 782), '#ffffff'); line((2785, 2785), (773, 791), '#ffffff')
text(2825, 783, '31.88', 26.5, '#ffffff', zorder=7)
rbox(1113, 1230, 1313, 1276, '#363a45', r=5, z=6)
text(1213, 1253, "Fri 01 May '81", 24.5, '#ffffff', ha='center', zorder=7)

# gear bottom right
th = np.deg2rad(np.arange(0, 361, 60))
ov.plot(2867 + 14 * np.cos(th), 1257 + 16 * np.sin(th), color='#b2b5be', lw=2 * P, zorder=7)
ring(2867, 1257, 4, ec='#b2b5be')

# TradingView logo
for pts in ([(134, 1170), (163, 1170), (163, 1200), (148, 1200), (148, 1183), (134, 1183)],
            [(182, 1170), (196, 1170), (185, 1200), (170, 1200)]):
    ov.add_patch(Polygon(pts, fc='#e6e6e6', ec='#0a0a0a', lw=5 * P, zorder=6, joinstyle='miter'))
ov.add_patch(Ellipse((170, 1177), 12, 16, fc='#e6e6e6', ec='#0a0a0a', lw=3 * P, zorder=6))

# dinosaur
dino = smooth([(116, 908), (124, 892), (132, 880), (144, 880), (148, 884), (148, 873), (150, 868), (155, 868), (158, 875),
               (158, 895), (153, 908), (150, 917), (143, 917), (142, 908), (132, 908), (131, 917), (122, 917), (122, 910), (115, 909)], 6)
line(dino[:, 0], dino[:, 1], '#e0e0e0', lw=2.5, z=6)

fig.savefig('out.png', dpi=100, facecolor=fig.get_facecolor())
